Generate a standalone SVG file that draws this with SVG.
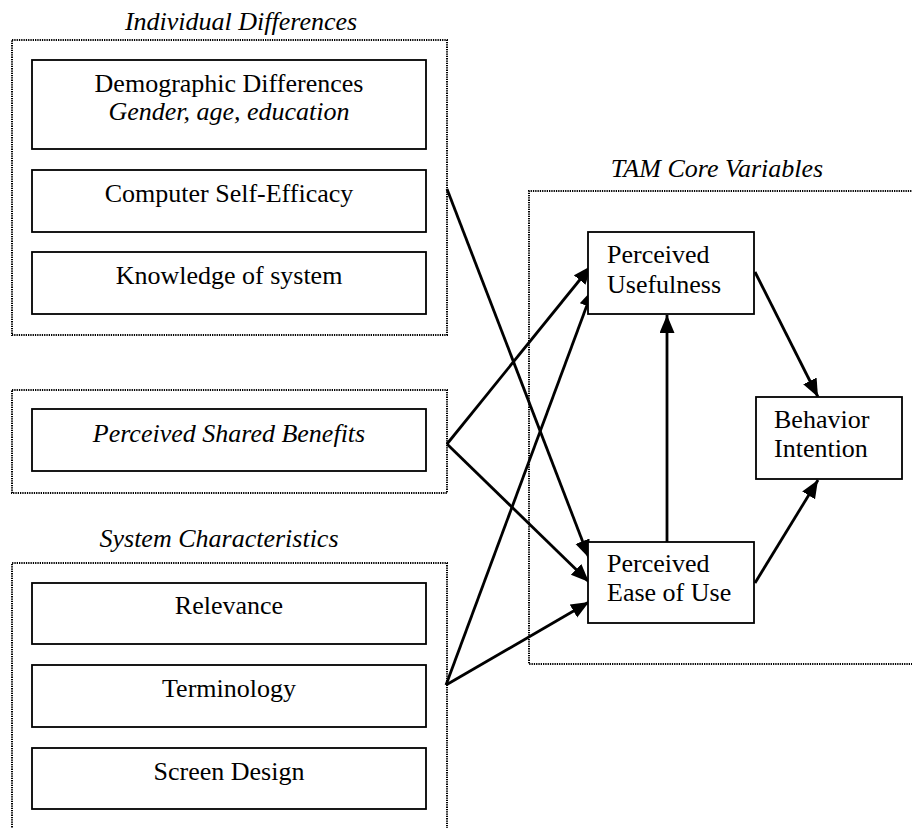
<svg xmlns="http://www.w3.org/2000/svg" width="912" height="828" viewBox="0 0 912 828">
<style>
  .grp{fill:none;stroke:#000;stroke-width:2;stroke-dasharray:1.3 1}
  .box{fill:#fff;stroke:#000;stroke-width:1.8}
  .t{font-family:"Liberation Serif","Times New Roman","DejaVu Serif",serif;font-size:26px;fill:#000}
  .i{font-style:italic}
  .c{text-anchor:middle}
  .edge{fill:none;stroke:#000;stroke-width:2.8}
</style>
<defs>
  <marker id="ah" markerUnits="userSpaceOnUse" markerWidth="20" markerHeight="16" refX="18" refY="7.5" orient="auto">
    <path d="M0,0 L18,7.5 L0,15 Z" fill="#000"/>
  </marker>
</defs>
<rect width="912" height="828" fill="#fff"/>

<g id="group-individual">
  <text class="t i c" x="241" y="30">Individual Differences</text>
  <rect class="grp" x="12" y="40" width="435" height="295"/>
</g>
<g id="group-shared">
  <rect class="grp" x="12" y="390" width="435" height="103"/>
</g>
<g id="group-system">
  <text class="t i c" x="219" y="547">System Characteristics</text>
  <path class="grp" d="M12,832 L12,563 L447,563 L447,832"/>
</g>
<g id="group-tam">
  <text class="t i c" x="717" y="177">TAM Core Variables</text>
  <path class="grp" d="M916,191 L529,191 L529,664 L916,664"/>
</g>

<g id="connectors">
  <line class="edge" x1="447" y1="189" x2="589" y2="558" marker-end="url(#ah)"/>
  <line class="edge" x1="447" y1="444" x2="591" y2="266" marker-end="url(#ah)"/>
  <line class="edge" x1="447" y1="444" x2="589" y2="582" marker-end="url(#ah)"/>
  <line class="edge" x1="446" y1="685" x2="593" y2="289" marker-end="url(#ah)"/>
  <line class="edge" x1="446" y1="685" x2="589" y2="602" marker-end="url(#ah)"/>
  <line class="edge" x1="667" y1="542" x2="667" y2="315" marker-end="url(#ah)"/>
  <line class="edge" x1="755" y1="272" x2="818" y2="397" marker-end="url(#ah)"/>
  <line class="edge" x1="755" y1="583" x2="818" y2="480" marker-end="url(#ah)"/>
</g>

<g id="demographic">
  <rect class="box" x="32" y="60" width="394" height="89"/>
  <text class="t c" x="229" y="92">Demographic Differences</text>
  <text class="t i c" x="229" y="120">Gender, age, education</text>
</g>
<g id="self-efficacy">
  <rect class="box" x="32" y="170" width="394" height="62"/>
  <text class="t c" x="229" y="202">Computer Self-Efficacy</text>
</g>
<g id="knowledge">
  <rect class="box" x="32" y="252" width="394" height="62"/>
  <text class="t c" x="229" y="284">Knowledge of system</text>
</g>
<g id="shared-benefits">
  <rect class="box" x="32" y="409" width="394" height="62"/>
  <text class="t i c" x="229" y="442">Perceived Shared Benefits</text>
</g>
<g id="relevance">
  <rect class="box" x="32" y="583" width="394" height="61"/>
  <text class="t c" x="229" y="614">Relevance</text>
</g>
<g id="terminology">
  <rect class="box" x="32" y="665" width="394" height="62"/>
  <text class="t c" x="229" y="697">Terminology</text>
</g>
<g id="screen-design">
  <rect class="box" x="32" y="748" width="394" height="61"/>
  <text class="t c" x="229" y="780">Screen Design</text>
</g>
<g id="usefulness">
  <rect class="box" x="588" y="232" width="166" height="82"/>
  <text class="t" x="607" y="263">Perceived</text>
  <text class="t" x="607" y="293">Usefulness</text>
</g>
<g id="ease-of-use">
  <rect class="box" x="588" y="542" width="166" height="81"/>
  <text class="t" x="607" y="572">Perceived</text>
  <text class="t" x="607" y="601">Ease of Use</text>
</g>
<g id="behavior-intention">
  <rect class="box" x="756" y="397" width="146" height="82"/>
  <text class="t" x="774" y="428">Behavior</text>
  <text class="t" x="774" y="457">Intention</text>
</g>
</svg>
